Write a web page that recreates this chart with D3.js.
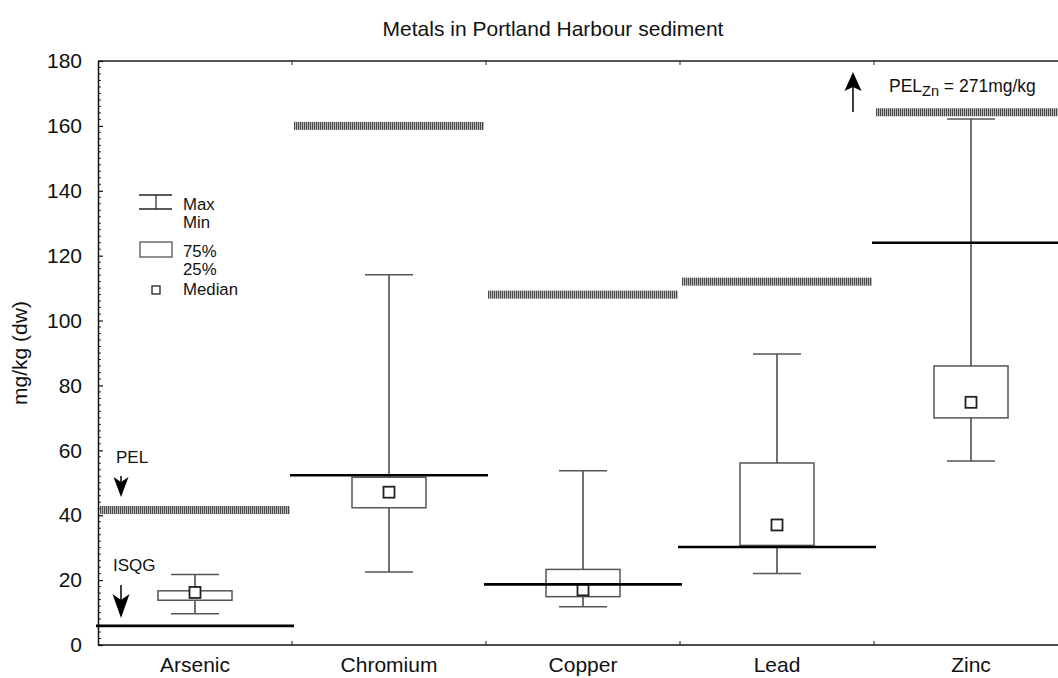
<!DOCTYPE html>
<html>
<head>
<meta charset="utf-8">
<script src="https://cdn.jsdelivr.net/npm/d3@7"></script>
<style>
  html, body { margin: 0; padding: 0; background: #fff; }
  svg { display: block; font-family: "Liberation Sans", Arial, sans-serif; }
</style>
</head>
<body>
<div id="chart"></div>
<script>
// Metals measured in harbour sediment (mg/kg dry weight)
const categories = ["Arsenic", "Chromium", "Copper", "Lead", "Zinc"];
const maxValues    = [21.7, 114.1, 53.7, 89.7, 162.1];
const q75Values    = [16.7, 51.7, 23.3, 56.1, 86.0];
const medianValues = [16.2, 47.1, 17.0, 37.0, 74.8];
const q25Values    = [13.8, 42.3, 14.9, 30.7, 70.0];
const minValues    = [9.6, 22.5, 11.8, 22.0, 56.7];

// Sediment quality guidelines
const isqgValues = [5.9, 52.3, 18.7, 30.2, 124];
const pelValues  = [41.6, 160, 108, 112, 271];

// Axis
const yTicks = [0, 20, 40, 60, 80, 100, 120, 140, 160, 180];
const yMax = 180;
const offScaleLevel = 164.2; // where an off-scale PEL is drawn

const W = 1058, H = 678;
const plot = { left: 98, top: 61, bottom: 645, bandWidth: 194 };

const svg = d3.select("#chart").append("svg")
  .attr("width", W).attr("height", H);

const x = d3.scaleBand()
  .domain(categories)
  .range([plot.left, plot.left + plot.bandWidth * categories.length])
  .paddingInner(0).paddingOuter(0);

const y = d3.scaleLinear().domain([0, yMax]).range([plot.bottom, plot.top]);

const rows = categories.map((c, i) => ({
  cat: c, max: maxValues[i], q75: q75Values[i], med: medianValues[i],
  q25: q25Values[i], min: minValues[i], isqg: isqgValues[i], pel: pelValues[i]
}));

// Stripe pattern for the PEL bars
const defs = svg.append("defs");
const pat = defs.append("pattern").attr("id", "stripes")
  .attr("patternUnits", "userSpaceOnUse").attr("width", 2).attr("height", 10);
pat.append("rect").attr("width", 2).attr("height", 10).attr("fill", "#b8b8b8");
pat.append("rect").attr("width", 1).attr("height", 10).attr("fill", "#4a4a4a");

// Title
svg.append("text").attr("x", 553).attr("y", 36)
  .attr("text-anchor", "middle").attr("font-size", 21).attr("fill", "#111")
  .text("Metals in Portland Harbour sediment");

// Y axis label
svg.append("text")
  .attr("transform", `translate(27,${(plot.top + plot.bottom) / 2}) rotate(-90)`)
  .attr("text-anchor", "middle").attr("font-size", 21).attr("fill", "#111")
  .text("mg/kg (dw)");

// Top frame line
svg.append("line")
  .attr("x1", plot.left).attr("x2", W).attr("y1", plot.top).attr("y2", plot.top)
  .attr("stroke", "#555").attr("stroke-width", 2);

// Top frame ticks at band boundaries
svg.append("g").selectAll("line")
  .data(categories.slice(1))
  .join("line")
  .attr("x1", d => x(d)).attr("x2", d => x(d))
  .attr("y1", plot.top).attr("y2", plot.top + 4)
  .attr("stroke", "#222").attr("stroke-width", 1);

// Minor y ticks
const minorTicks = d3.range(0, yMax + 0.001, 2).filter(v => v % 20 !== 0);
svg.append("g").selectAll("line")
  .data(minorTicks).join("line")
  .attr("x1", plot.left).attr("x2", plot.left + 3)
  .attr("y1", d => y(d)).attr("y2", d => y(d))
  .attr("stroke", "#222").attr("stroke-width", 1);

// Y axis with inward major ticks
const yAxis = d3.axisLeft(y).tickValues(yTicks).tickSizeInner(-5).tickSizeOuter(0)
  .tickPadding(16).tickFormat(d3.format("d"));
const gy = svg.append("g").attr("transform", `translate(${plot.left},0)`).call(yAxis);
gy.select(".domain").attr("stroke", "#111").attr("stroke-width", 1.5);
gy.selectAll(".tick line").attr("stroke", "#111").attr("stroke-width", 1.2);
gy.selectAll(".tick text").attr("font-size", 21).attr("fill", "#111")
  .attr("font-family", "'Liberation Sans', Arial, sans-serif");

// X axis: band boundary ticks pointing up, labels centred in bands
svg.append("line")
  .attr("x1", plot.left).attr("x2", W).attr("y1", plot.bottom).attr("y2", plot.bottom)
  .attr("stroke", "#111").attr("stroke-width", 1.5);
svg.append("g").selectAll("line")
  .data(categories.slice(1)).join("line")
  .attr("x1", d => x(d)).attr("x2", d => x(d))
  .attr("y1", plot.bottom).attr("y2", plot.bottom - 4)
  .attr("stroke", "#111").attr("stroke-width", 1);
svg.append("g").selectAll("text")
  .data(categories).join("text")
  .attr("x", d => x(d) + x.bandwidth() / 2).attr("y", 672)
  .attr("text-anchor", "middle").attr("font-size", 21).attr("fill", "#111")
  .text(d => d);

// PEL stripe bars (off-scale values pinned at the top)
const stripeH = 8;
svg.append("g").selectAll("rect")
  .data(rows).join("rect")
  .attr("x", d => x(d.cat) + 2).attr("width", x.bandwidth() - 4)
  .attr("y", d => y(Math.min(d.pel, offScaleLevel)) - stripeH / 2)
  .attr("height", stripeH)
  .attr("fill", "url(#stripes)");

// Whiskers
const capHalf = 24, boxHalf = 37, medHalf = 5.5;
const g = svg.append("g").selectAll("g").data(rows).join("g")
  .attr("transform", d => `translate(${x(d.cat) + x.bandwidth() / 2},0)`);

g.append("line")
  .attr("x1", 0).attr("x2", 0)
  .attr("y1", d => y(d.max)).attr("y2", d => y(d.min))
  .attr("stroke", "#111").attr("stroke-width", 1.2);
g.append("line")
  .attr("x1", -capHalf).attr("x2", capHalf)
  .attr("y1", d => y(d.max)).attr("y2", d => y(d.max))
  .attr("stroke", "#555").attr("stroke-width", 1.5);
g.append("line")
  .attr("x1", -capHalf).attr("x2", capHalf)
  .attr("y1", d => y(d.min)).attr("y2", d => y(d.min))
  .attr("stroke", "#555").attr("stroke-width", 1.5);

// Interquartile boxes
g.append("rect")
  .attr("x", -boxHalf).attr("width", boxHalf * 2)
  .attr("y", d => y(d.q75)).attr("height", d => y(d.q25) - y(d.q75))
  .attr("fill", "#fff").attr("stroke", "#555").attr("stroke-width", 1.5);

// ISQG lines
svg.append("g").selectAll("line")
  .data(rows).join("line")
  .attr("x1", d => x(d.cat) - 2).attr("x2", d => x(d.cat) + x.bandwidth() + 2)
  .attr("y1", d => y(d.isqg)).attr("y2", d => y(d.isqg))
  .attr("stroke", "#000").attr("stroke-width", 2.6);

// Median markers
g.append("rect")
  .attr("x", -medHalf).attr("width", medHalf * 2)
  .attr("y", d => y(d.med) - medHalf).attr("height", medHalf * 2)
  .attr("fill", "#fff").attr("stroke", "#222").attr("stroke-width", 1.8);

// Arrow helper: notched arrowhead with a shaft
function arrow(cx, tipY, tailY, headLen, halfW, notch) {
  const dir = tipY > tailY ? 1 : -1;
  const barbY = tipY - dir * headLen;
  const notchY = tipY - dir * (headLen - notch);
  svg.append("line").attr("x1", cx).attr("x2", cx)
    .attr("y1", tailY).attr("y2", notchY)
    .attr("stroke", "#000").attr("stroke-width", 1.5);
  svg.append("path")
    .attr("d", `M${cx},${tipY} L${cx - halfW},${barbY} L${cx},${notchY} L${cx + halfW},${barbY} Z`)
    .attr("fill", "#000");
}

// PEL and ISQG annotations
svg.append("text").attr("x", 116).attr("y", 463).attr("font-size", 17).attr("fill", "#111").text("PEL");
arrow(121, 497, 476, 20, 7.5, 5);
svg.append("text").attr("x", 113).attr("y", 571).attr("font-size", 17).attr("fill", "#111").text("ISQG");
arrow(121, 618, 585, 24, 8.5, 6);

// Off-scale zinc PEL note
arrow(853, 72, 112, 19, 8.5, 4);
const zn = svg.append("text").attr("x", 889).attr("y", 92).attr("font-size", 17.5).attr("fill", "#111");
zn.append("tspan").text("PEL");
zn.append("tspan").attr("dy", 4).attr("font-size", 14.5).text("Zn");
zn.append("tspan").attr("dy", -4).text(` = ${pelValues[4]}mg/kg`);

// Legend
const lg = svg.append("g").attr("font-size", 16.8).attr("fill", "#111");
lg.append("line").attr("x1", 139).attr("x2", 172).attr("y1", 195).attr("y2", 195).attr("stroke", "#222").attr("stroke-width", 1.3);
lg.append("line").attr("x1", 139).attr("x2", 172).attr("y1", 209).attr("y2", 209).attr("stroke", "#222").attr("stroke-width", 1.3);
lg.append("line").attr("x1", 156).attr("x2", 156).attr("y1", 195).attr("y2", 209).attr("stroke", "#222").attr("stroke-width", 1.2);
lg.append("text").attr("x", 183).attr("y", 210).text("Max");
lg.append("text").attr("x", 183).attr("y", 228).text("Min");
lg.append("rect").attr("x", 140).attr("y", 242).attr("width", 32).attr("height", 15)
  .attr("fill", "#fff").attr("stroke", "#555").attr("stroke-width", 1.3);
lg.append("text").attr("x", 183).attr("y", 257).text("75%");
lg.append("text").attr("x", 183).attr("y", 275).text("25%");
lg.append("rect").attr("x", 152).attr("y", 286).attr("width", 8).attr("height", 8)
  .attr("fill", "#fff").attr("stroke", "#222").attr("stroke-width", 1.3);
lg.append("text").attr("x", 183).attr("y", 295).text("Median");
</script>
</body>
</html>
